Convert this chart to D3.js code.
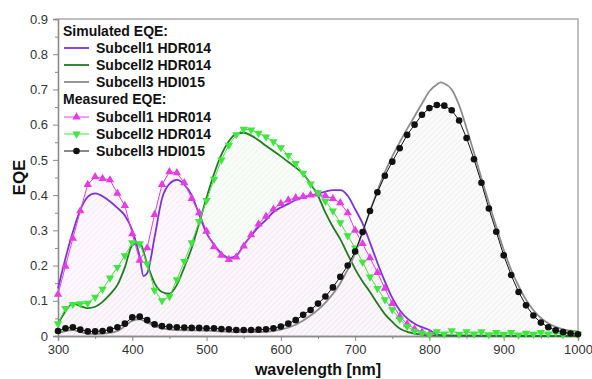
<!DOCTYPE html>
<html>
<head>
<meta charset="utf-8">
<script src="https://cdn.jsdelivr.net/npm/d3@7"></script>
<style>
  body { margin: 0; background: #fff; }
  svg { font-family: "Liberation Sans", Arial, sans-serif; }
</style>
</head>
<body>
<svg id="chart"></svg>
<script>

// measured EQE, every 10 nm
let measWl1 = [300,310,320,330,340,350,360,370,380,390,400,410,420,430,440,450,460,470,480,490,500,
    510,520,530,540,550,560,570,580,590,600,610,620,630,640,650,660,670,680,690,700,
    710,720,730,740,750,760,770,780,790,800]
let measSub1 = [0.118,0.198,0.277,0.355,0.43,0.452,0.447,0.443,0.405,0.37,0.29,
    0.215,0.25,0.345,0.43,0.466,0.463,0.435,0.39,0.35,0.297,
    0.253,0.229,0.217,0.224,0.255,0.287,0.318,0.34,0.36,0.376,
    0.386,0.392,0.396,0.4,0.403,0.398,0.39,0.378,0.35,0.30,
    0.262,0.222,0.18,0.135,0.092,0.056,0.034,0.02,0.011,0.005]

let measWl = [300,310,320,330,340,350,360,370,380,390,400,410,420,430,440,450,460,470,480,490,500,
    510,520,530,540,550,560,570,580,590,600,610,620,630,640,650,660,670,680,690,700,
    710,720,730,740,750,760,770,780,790,800,810,820,830,840,850,860,870,880,890,900,
    910,920,930,940,950,960,970,980,990,1000]
let measSub2 = [0.035,0.078,0.09,0.092,0.093,0.11,0.133,0.165,0.195,0.228,0.265,
    0.262,0.205,0.13,0.10,0.112,0.16,0.212,0.265,0.325,0.385,
    0.445,0.5,0.542,0.572,0.587,0.585,0.576,0.565,0.552,0.535,
    0.513,0.49,0.462,0.432,0.407,0.383,0.355,0.322,0.285,0.25,
    0.21,0.168,0.135,0.103,0.075,0.048,0.027,0.014,0.008,0.004,
    0.012,0.006,0.015,0.005,0.012,0.006,0.012,0.004,0.01,0.005,
    0.01,0.003,0.008,0.005,0.01,0.006,0.01,0.004,0.008,0.005]
let measSub3 = [0.014,0.022,0.025,0.018,0.013,0.013,0.014,0.018,0.025,0.035,0.053,
    0.055,0.045,0.033,0.028,0.026,0.025,0.024,0.023,0.023,0.022,
    0.022,0.02,0.019,0.017,0.017,0.017,0.018,0.019,0.022,0.027,
    0.035,0.045,0.06,0.074,0.092,0.112,0.138,0.168,0.2,0.24,
    0.295,0.355,0.408,0.455,0.495,0.533,0.571,0.6,0.628,0.647,
    0.656,0.654,0.641,0.612,0.562,0.502,0.435,0.362,0.296,0.229,
    0.173,0.125,0.087,0.058,0.038,0.025,0.016,0.011,0.007,0.005]

// simulated EQE
let simWl1 = [300,310,320,330,340,350,360,370,380,390,400,410,415,420,430,440,450,460,470,480,490,500,
    510,520,530,540,550,560,570,580,590,600,610,620,630,640,650,660,670,680,690,700,
    710,720,730,740,750,760,770,780,790,800,810,820,850,900,1000]
let simSub1 = [0.135,0.22,0.295,0.358,0.395,0.405,0.397,0.382,0.364,0.342,0.30,0.225,0.17,
    0.178,0.28,0.39,0.432,0.443,0.43,0.40,0.345,0.292,0.26,
    0.235,0.222,0.228,0.258,0.285,0.31,0.33,0.352,0.365,0.375,
    0.386,0.393,0.399,0.404,0.41,0.414,0.414,0.398,0.36,0.32,
    0.265,0.208,0.155,0.108,0.073,0.05,0.035,0.025,0.017,0.004,0.002,
    0.001,0.001,0]

let simWl2 = [300,310,320,330,340,350,360,370,380,390,400,410,420,430,440,450,460,470,480,490,500,
    510,520,530,540,550,560,570,580,590,600,610,620,630,640,650,660,670,680,690,700,
    710,720,730,740,750,760,770,780,790,800,850,1000]
let simSub2 = [0.035,0.07,0.092,0.085,0.079,0.083,0.097,0.118,0.145,0.195,0.258,
    0.265,0.205,0.15,0.125,0.12,0.145,0.195,0.25,0.32,0.393,
    0.46,0.515,0.553,0.574,0.577,0.569,0.556,0.54,0.525,0.51,
    0.494,0.478,0.46,0.432,0.398,0.35,0.31,0.275,0.232,0.19,
    0.155,0.125,0.092,0.062,0.04,0.021,0.012,0.007,0.004,0.002,
    0.001,0]

let simWl3 = [300,310,320,330,340,350,360,380,400,410,420,440,460,500,540,580,600,620,640,660,680,
    700,710,720,730,740,750,760,770,780,790,800,810,815,820,830,840,850,860,870,880,890,
    900,910,920,930,940,950,960,970,980,990,1000]
let simSub3 = [0.008,0.014,0.017,0.011,0.007,0.006,0.007,0.014,0.043,0.047,0.038,
    0.022,0.017,0.015,0.011,0.012,0.018,0.032,0.058,0.095,0.15,
    0.235,0.295,0.355,0.412,0.465,0.51,0.55,0.588,0.624,0.66,
    0.695,0.714,0.72,0.717,0.7,0.655,0.59,0.52,0.448,0.378,0.31,
    0.245,0.188,0.142,0.103,0.073,0.051,0.036,0.026,0.019,0.015,0.013]

let xTicks = [300,400,500,600,700,800,900,1000]
let yTicks = [0,0.1,0.2,0.3,0.4,0.5,0.6,0.7,0.8,0.9]

let simNames = ["Subcell1 HDR014", "Subcell2 HDR014", "Subcell3 HDI015"]
let simColors = ["#7d32d8", "#1e7d1e", "#8c8c8c"]
let measNames = ["Subcell1 HDR014", "Subcell2 HDR014", "Subcell3 HDI015"]
let measColors = ["#e63ce6", "#3ee63e", "#111111"]

function drawChart() {
    let w = 592, h = 379
    let margin = {top: 19, right: 14, bottom: 43, left: 58}

    let svg = d3.select("#chart")
        .attr("width", w)
        .attr("height", h)

    let x = d3.scaleLinear().domain([300, 1000]).range([margin.left, w - margin.right])
    let y = d3.scaleLinear().domain([0, 0.9]).range([h - margin.bottom, margin.top])

    // hatch patterns for the filled regions
    let defs = svg.append("defs")
    let hatches = [
        {id: "hatch3", bg: "#f9f9f9", line: "#d8d8d8"},
        {id: "hatch2", bg: "#f6fbf6", line: "#d8ead8"},
        {id: "hatch1", bg: "#fcf5fc", line: "#ead3ea"}
    ]
    for (let hp of hatches) {
        let p = defs.append("pattern")
            .attr("id", hp.id)
            .attr("width", 4)
            .attr("height", 4)
            .attr("patternUnits", "userSpaceOnUse")
            .attr("patternTransform", "rotate(45)")
        p.append("rect").attr("width", 4).attr("height", 4).attr("fill", hp.bg)
        p.append("line").attr("x1", 0).attr("y1", 0).attr("x2", 0).attr("y2", 4)
            .attr("stroke", hp.line).attr("stroke-width", 1)
    }

    let area = d3.area()
        .x(d => x(d[0]))
        .y0(y(0))
        .y1(d => y(d[1]))

    let fills = [
        {data: d3.zip(measWl, measSub3), id: "hatch3"},
        {data: d3.zip(measWl, measSub2), id: "hatch2"},
        {data: d3.zip(measWl1, measSub1), id: "hatch1"}
    ]
    for (let f of fills) {
        svg.append("path")
            .attr("d", area(f.data))
            .attr("fill", "url(#" + f.id + ")")
            .attr("opacity", 0.7)
    }

    // axes
    let xAxis = d3.axisBottom(x).tickValues(xTicks).tickSize(5).tickPadding(4).tickFormat(d3.format("d"))
    let xMinor = d3.axisBottom(x).tickValues(d3.range(350, 1000, 100)).tickSize(3).tickFormat("")
    let yAxis = d3.axisLeft(y).tickValues(yTicks).tickSize(5).tickPadding(5)
        .tickFormat(d => d == 0 ? "0" : d3.format(".1f")(d))
    let yMinor = d3.axisLeft(y).tickValues(d3.range(0.05, 0.9, 0.1)).tickSize(3).tickFormat("")

    svg.append("g").attr("transform", "translate(0," + y(0) + ")").call(xAxis)
    svg.append("g").attr("transform", "translate(0," + y(0) + ")").call(xMinor)
    svg.append("g").attr("transform", "translate(" + x(300) + ",0)").call(yAxis)
    svg.append("g").attr("transform", "translate(" + x(300) + ",0)").call(yMinor)

    svg.selectAll(".domain").attr("stroke", "#8a8a8a").attr("stroke-width", 1.3)
    svg.selectAll(".tick line").attr("stroke", "#8a8a8a")
    svg.selectAll(".tick text").attr("fill", "#333").style("font-size", "13px")

    // frame on top and right
    svg.append("path")
        .attr("d", "M" + x(300) + "," + y(0.9) + "H" + x(1000) + "V" + y(0))
        .attr("fill", "none")
        .attr("stroke", "#aaaaaa")
        .attr("stroke-width", 1.5)

    // simulated lines
    let smooth = d3.line().x(d => x(d[0])).y(d => y(d[1])).curve(d3.curveMonotoneX)
    let sims = [d3.zip(simWl1, simSub1), d3.zip(simWl2, simSub2), d3.zip(simWl3, simSub3)]
    sims.forEach((s, i) => {
        svg.append("path")
            .attr("d", smooth(s))
            .attr("fill", "none")
            .attr("stroke", simColors[i])
            .attr("stroke-width", 1.8)
    })

    // measured lines with markers
    let straight = d3.line().x(d => x(d[0])).y(d => y(d[1]))
    let meas = [d3.zip(measWl1, measSub1), d3.zip(measWl, measSub2), d3.zip(measWl, measSub3)]
    let shapes = ["up", "down", "circle"]
    meas.forEach((m, i) => {
        svg.append("path")
            .attr("d", straight(m))
            .attr("fill", "none")
            .attr("stroke", measColors[i])
            .attr("stroke-width", 1)
        drawMarkers(svg, m.map(d => [x(d[0]), y(d[1])]), shapes[i], measColors[i])
    })

    // axis titles
    svg.append("text")
        .attr("x", (x(300) + x(1000)) / 2)
        .attr("y", 375)
        .attr("text-anchor", "middle")
        .style("font-size", "16px")
        .style("font-weight", "bold")
        .attr("fill", "#111")
        .text("wavelength [nm]")

    svg.append("text")
        .attr("transform", "translate(25," + (y(0.45)) + ") rotate(-90)")
        .attr("text-anchor", "middle")
        .style("font-size", "17px")
        .style("font-weight", "bold")
        .attr("fill", "#111")
        .text("EQE")

    drawLegend(svg)
}

function drawMarkers(g, pts, shape, color) {
    if (shape == "circle") {
        g.append("g").selectAll("circle")
            .data(pts)
            .enter()
            .append("circle")
            .attr("cx", d => d[0])
            .attr("cy", d => d[1])
            .attr("r", 3.3)
            .attr("fill", color)
        return
    }
    let sym = d3.symbol().type(d3.symbolTriangle).size(30)
    g.append("g").selectAll("path")
        .data(pts)
        .enter()
        .append("path")
        .attr("d", sym)
        .attr("transform", d => "translate(" + d[0] + "," + d[1] + ")" + (shape == "down" ? " rotate(180)" : ""))
        .attr("fill", color)
}

function drawLegend(svg) {
    let lx0 = 64, lx1 = 89, tx = 96
    let leg = svg.append("g").style("font-size", "14px").style("font-weight", "bold").attr("fill", "#111")

    leg.append("text").attr("x", 63).attr("y", 36).text("Simulated EQE:")
    simNames.forEach((name, i) => {
        let cy = 48 + i * 17
        leg.append("line").attr("x1", lx0).attr("x2", lx1).attr("y1", cy).attr("y2", cy)
            .attr("stroke", simColors[i]).attr("stroke-width", 1.8)
        leg.append("text").attr("x", tx).attr("y", cy + 5).text(name)
    })

    leg.append("text").attr("x", 63).attr("y", 104).text("Measured EQE:")
    let shapes = ["up", "down", "circle"]
    measNames.forEach((name, i) => {
        let cy = 117 + i * 17
        leg.append("line").attr("x1", lx0).attr("x2", lx1).attr("y1", cy).attr("y2", cy)
            .attr("stroke", measColors[i]).attr("stroke-width", 1)
        drawMarkers(leg, [[(lx0 + lx1) / 2, cy]], shapes[i], measColors[i])
        leg.append("text").attr("x", tx).attr("y", cy + 5).text(name)
    })
}

drawChart()
</script>
</body>
</html>
